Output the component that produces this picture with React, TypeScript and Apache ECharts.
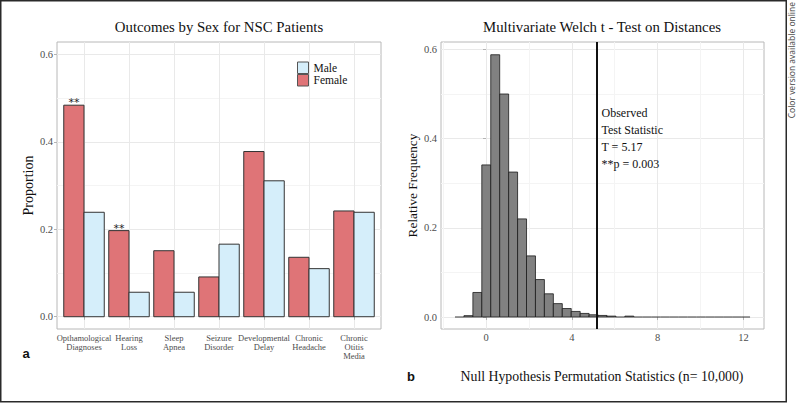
import React, { useEffect, useRef } from 'react';
import * as echarts from 'echarts';

// ---------- Panel a: Outcomes by Sex ----------
const categories = [
  'Opthamological\nDiagnoses',
  'Hearing\nLoss',
  'Sleep\nApnea',
  'Seizure\nDisorder',
  'Developmental\nDelay',
  'Chronic\nHeadache',
  'Chronic\nOtitis\nMedia',
];
const categoryPositions = [1, 2, 3, 4, 5, 6, 7];
const femaleValues = [0.484, 0.197, 0.151, 0.091, 0.378, 0.136, 0.242];
const maleValues = [0.239, 0.056, 0.056, 0.166, 0.311, 0.110, 0.239];
const femaleMarks = ['**', '**', '', '', '', '', ''];
const leftYTicks = [0, 0.2, 0.4, 0.6];
const leftYMinor = [0.1, 0.3, 0.5];

// ---------- Panel b: permutation histogram ----------
const histCenters = [
  -1.237, -0.820, -0.403, 0.013, 0.430, 0.847, 1.264, 1.681, 2.097, 2.514, 2.931,
  3.348, 3.765, 4.182, 4.598, 5.015, 5.432, 5.849, 6.266, 6.682, 7.099, 7.516,
  7.933, 8.350, 8.766, 9.183, 9.600, 10.017, 10.434, 10.850, 11.267, 11.684, 12.101,
];
const histDensity = [
  0.0002, 0.003, 0.055, 0.341, 0.588, 0.500, 0.325, 0.220, 0.137, 0.084, 0.052,
  0.030, 0.019, 0.0125, 0.008, 0.005, 0.0035, 0.002, 0.0005, 0.002, 0, 0,
  0, 0, 0, 0, 0, 0, 0, 0, 0, 0, 0.0002,
];
const histBinWidth = 0.4168;
const histXTicks = [0, 4, 8, 12];
const histXMinor = [-2, 2, 6, 10];
const histYTicks = [0, 0.2, 0.4, 0.6];
const histYMinor = [0.1, 0.3, 0.5];
const observedT = 5.17;
const pValueText = '0.003';

const SERIF = '"Liberation Serif", "Times New Roman", serif';
const RED = '#DF7477';
const BLUE = '#D5EEFA';
const MAJOR = '#e9e9e9';
const MINOR = '#f4f4f4';
const BORDER = '#b8b8b8';
const TICKTXT = '#4d4d4d';

function makeBarRender(offset: number, fill: string, marks: string[] | null) {
  return (params: any, api: any) => {
    const x = api.value(0) as number;
    const y = api.value(1) as number;
    const tl = api.coord([x + offset, y]);
    const br = api.coord([x + offset + 0.45, 0]);
    const children: any[] = [
      {
        type: 'rect',
        shape: { x: tl[0], y: tl[1], width: br[0] - tl[0], height: br[1] - tl[1] },
        style: { fill, stroke: '#333333', lineWidth: 1 },
      },
    ];
    const m = marks ? marks[params.dataIndex] : '';
    if (m) {
      children.push({
        type: 'text',
        x: (tl[0] + br[0]) / 2,
        y: tl[1] - 2.5,
        style: {
          text: m,
          fill: '#222',
          font: '11px "DejaVu Sans", sans-serif',
          textAlign: 'center',
          textVerticalAlign: 'middle',
        },
      });
    }
    return { type: 'group', children };
  };
}

function histRender(params: any, api: any) {
  const c = api.value(0) as number;
  const h = api.value(1) as number;
  const tl = api.coord([c - histBinWidth / 2, h]);
  const br = api.coord([c + histBinWidth / 2, 0]);
  const hgt = br[1] - tl[1];
  if (hgt < 0.6) {
    return {
      type: 'line',
      shape: { x1: tl[0], y1: br[1], x2: br[0], y2: br[1] },
      style: { stroke: '#222', lineWidth: 0.9 },
    };
  }
  return {
    type: 'rect',
    shape: { x: tl[0], y: tl[1], width: br[0] - tl[0], height: hgt },
    style: { fill: '#818181', stroke: '#1a1a1a', lineWidth: 0.8 },
  };
}

export default function App() {
  const ref = useRef<HTMLDivElement>(null);

  useEffect(() => {
    if (!ref.current) return;
    const chart = echarts.init(ref.current, null, { renderer: 'svg' });

    const tickStyle = { length: 3, lineStyle: { color: '#b3b3b3', width: 1 } };
    const labelBase = { fontFamily: SERIF, color: TICKTXT };

    const option: any = {
      animation: false,
      backgroundColor: '#ffffff',
      grid: [
        { left: 57, top: 42, width: 324, height: 287, show: true, borderColor: BORDER, borderWidth: 1, backgroundColor: 'transparent' },
        { left: 441, top: 42, width: 323, height: 287, show: true, borderColor: BORDER, borderWidth: 1, backgroundColor: 'transparent' },
      ],
      xAxis: [
        {
          gridIndex: 0,
          type: 'value',
          min: 0.4,
          max: 7.6,
          axisLine: { show: false },
          axisTick: { show: true, customValues: categoryPositions, ...tickStyle },
          axisLabel: {
            customValues: categoryPositions,
            formatter: (v: number) => categories[Math.round(v) - 1] ?? '',
            ...labelBase,
            fontSize: 8.5,
            lineHeight: 9,
            margin: 4,
          },
          splitLine: { show: true, lineStyle: { color: MAJOR, width: 1 } },
        },
        {
          gridIndex: 1,
          type: 'value',
          min: -2.098,
          max: 12.96,
          axisLine: { show: false },
          axisTick: { show: true, customValues: histXTicks, ...tickStyle },
          axisLabel: {
            customValues: histXTicks,
            formatter: (v: number) => String(v),
            ...labelBase,
            fontSize: 10.5,
            margin: 3,
          },
          splitLine: { show: true, lineStyle: { color: MAJOR, width: 1 } },
        },
        {
          gridIndex: 1,
          type: 'value',
          position: 'top',
          min: -2.098,
          max: 12.96,
          axisLine: { show: false },
          axisTick: { show: false, customValues: histXMinor },
          axisLabel: { show: false, customValues: histXMinor },
          splitLine: { show: true, lineStyle: { color: MINOR, width: 1 } },
        },
      ],
      yAxis: [
        {
          gridIndex: 0,
          type: 'value',
          min: -0.0281,
          max: 0.6286,
          axisLine: { show: false },
          axisTick: { show: true, customValues: leftYTicks, ...tickStyle },
          axisLabel: {
            customValues: leftYTicks,
            formatter: (v: number) => v.toFixed(1),
            ...labelBase,
            fontSize: 10.5,
            margin: 4,
          },
          splitLine: { show: true, lineStyle: { color: MAJOR, width: 1 } },
        },
        {
          gridIndex: 0,
          type: 'value',
          position: 'right',
          min: -0.0281,
          max: 0.6286,
          axisLine: { show: false },
          axisTick: { show: false, customValues: leftYMinor },
          axisLabel: { show: false, customValues: leftYMinor },
          splitLine: { show: true, lineStyle: { color: MINOR, width: 1 } },
        },
        {
          gridIndex: 1,
          type: 'value',
          min: -0.0269,
          max: 0.6166,
          axisLine: { show: false },
          axisTick: { show: true, customValues: histYTicks, ...tickStyle },
          axisLabel: {
            customValues: histYTicks,
            formatter: (v: number) => v.toFixed(1),
            ...labelBase,
            fontSize: 10.5,
            margin: 4,
          },
          splitLine: { show: true, lineStyle: { color: MAJOR, width: 1 } },
        },
        {
          gridIndex: 1,
          type: 'value',
          position: 'right',
          min: -0.0269,
          max: 0.6166,
          axisLine: { show: false },
          axisTick: { show: false, customValues: histYMinor },
          axisLabel: { show: false, customValues: histYMinor },
          splitLine: { show: true, lineStyle: { color: MINOR, width: 1 } },
        },
      ],
      legend: {
        data: [
          { name: 'Male', icon: 'rect', itemStyle: { color: BLUE, borderColor: '#555', borderWidth: 1 } },
          { name: 'Female', icon: 'rect', itemStyle: { color: RED, borderColor: '#555', borderWidth: 1 } },
        ],
        orient: 'vertical',
        left: 297,
        top: 61.5,
        padding: 0,
        itemWidth: 11,
        itemHeight: 11.5,
        itemGap: 0,
        selectedMode: false,
        textStyle: { fontFamily: SERIF, fontSize: 11.5, color: '#111', lineHeight: 11.5 },
      },
      series: [
        {
          name: 'Female',
          type: 'custom',
          xAxisIndex: 0,
          yAxisIndex: 0,
          z: 3,
          itemStyle: { color: RED, borderColor: '#555' },
          renderItem: makeBarRender(-0.45, RED, femaleMarks),
          data: femaleValues.map((v, i) => [categoryPositions[i], v]),
        },
        {
          name: 'Male',
          type: 'custom',
          xAxisIndex: 0,
          yAxisIndex: 0,
          z: 3,
          itemStyle: { color: BLUE, borderColor: '#555' },
          renderItem: makeBarRender(0, BLUE, null),
          data: maleValues.map((v, i) => [categoryPositions[i], v]),
        },
        {
          name: 'Null',
          type: 'custom',
          xAxisIndex: 1,
          yAxisIndex: 2,
          z: 3,
          renderItem: histRender,
          data: histCenters.map((c, i) => [c, histDensity[i]]),
          markLine: {
            silent: true,
            symbol: ['none', 'none'],
            label: { show: false },
            lineStyle: { color: '#111', width: 2, type: 'solid' },
            data: [{ xAxis: observedT }],
          },
        },
      ],
      graphic: [
        {
          type: 'rect',
          z: 100,
          shape: { x: 0.75, y: 0.75, width: 785.5, height: 401 },
          style: { fill: 'none', stroke: '#2a2a2a', lineWidth: 1.5 },
          silent: true,
        },
        {
          type: 'text',
          z: 100,
          x: 791.8,
          y: 2,
          rotation: Math.PI / 2,
          style: {
            text: 'Color version available online',
            font: '8.5px "Open Sans", sans-serif',
            fill: '#444',
            textAlign: 'right',
            textVerticalAlign: 'middle',
          },
        },
        {
          type: 'text',
          z: 100,
          x: 219,
          y: 27,
          style: { text: 'Outcomes by Sex for NSC Patients', font: `14.8px ${SERIF}`, fill: '#111', textAlign: 'center', textVerticalAlign: 'middle' },
        },
        {
          type: 'text',
          z: 100,
          x: 602,
          y: 27,
          style: { text: 'Multivariate Welch t - Test on Distances', font: `14.8px ${SERIF}`, fill: '#111', textAlign: 'center', textVerticalAlign: 'middle' },
        },
        {
          type: 'text',
          z: 100,
          x: 28,
          y: 185.5,
          rotation: Math.PI / 2,
          style: { text: 'Proportion', font: `14px ${SERIF}`, fill: '#111', textAlign: 'center', textVerticalAlign: 'middle' },
        },
        {
          type: 'text',
          z: 100,
          x: 412,
          y: 185.5,
          rotation: Math.PI / 2,
          style: { text: 'Relative Frequency', font: `13.3px ${SERIF}`, fill: '#111', textAlign: 'center', textVerticalAlign: 'middle' },
        },
        {
          type: 'text',
          z: 100,
          x: 602,
          y: 376,
          style: { text: 'Null Hypothesis Permutation Statistics (n= 10,000)', font: `13.8px ${SERIF}`, fill: '#111', textAlign: 'center', textVerticalAlign: 'middle' },
        },
        {
          type: 'text',
          z: 100,
          x: 26,
          y: 353,
          style: { text: 'a', font: 'bold 13px "Liberation Sans", sans-serif', fill: '#111', textAlign: 'center', textVerticalAlign: 'middle' },
        },
        {
          type: 'text',
          z: 100,
          x: 411,
          y: 376,
          style: { text: 'b', font: 'bold 13px "Liberation Sans", sans-serif', fill: '#111', textAlign: 'center', textVerticalAlign: 'middle' },
        },
        {
          type: 'text',
          z: 100,
          x: 601.5,
          y: 104.8,
          style: {
            text: `Observed\nTest Statistic\nT = ${observedT.toFixed(2)}\n**p = ${pValueText}`,
            font: `12px ${SERIF}`,
            lineHeight: 17,
            fill: '#111',
            textAlign: 'left',
            textVerticalAlign: 'top',
          },
        },
      ],
    };

    chart.setOption(option);
    return () => {
      chart.dispose();
    };
  }, []);

  return (
    <div
      ref={ref}
      style={{ position: 'fixed', left: 0, top: 0, width: 797, height: 404, background: '#fff' }}
    />
  );
}
